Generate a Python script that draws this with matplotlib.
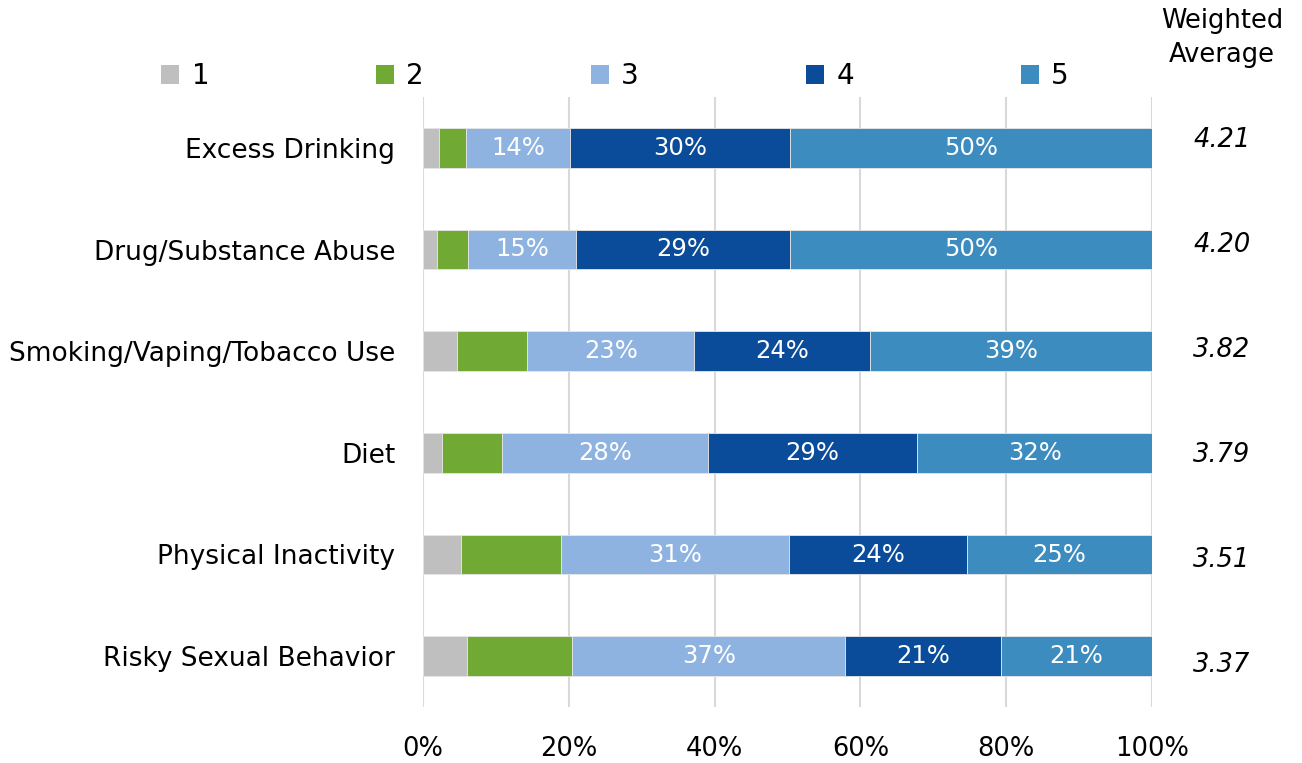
import matplotlib
matplotlib.use("Agg")
import matplotlib.pyplot as plt
from matplotlib.patches import Patch

categories = ["Excess Drinking", "Drug/Substance Abuse", "Smoking/Vaping/Tobacco Use",
              "Diet", "Physical Inactivity", "Risky Sexual Behavior"]
rating_labels = ["1", "2", "3", "4", "5"]
share_1 = [2.2, 1.9, 4.7, 2.6, 5.2, 6.0]
share_2 = [3.7, 4.3, 9.6, 8.2, 13.7, 14.5]
share_3 = [14.3, 14.8, 22.9, 28.3, 31.3, 37.4]
share_4 = [30.2, 29.4, 24.1, 28.7, 24.4, 21.4]
share_5 = [49.7, 49.7, 38.7, 32.2, 25.4, 20.7]
weighted_avg = [4.21, 4.20, 3.82, 3.79, 3.51, 3.37]
x_ticks = [0, 20, 40, 60, 80, 100]

colors = ["#BFBFBF", "#71A935", "#8FB3E0", "#0A4C9A", "#3C8CC0"]
labelled = [False, False, True, True, True]

plt.rcParams["font.family"] = ["DejaVu Sans"]

W, H = 1302, 763
fig = plt.figure(figsize=(W / 100, H / 100), dpi=100)
ax = fig.add_axes([423 / W, 1 - 707 / H, (1152 - 423) / W, 610 / H])

series = [share_1, share_2, share_3, share_4, share_5]
ypos = list(range(len(categories)))
left = [0.0] * len(categories)
for vals, col, lab in zip(series, colors, labelled):
    ax.barh(ypos, vals, left=left, height=0.393, color=col, edgecolor="#E6E6E6",
            linewidth=0.6, zorder=3)
    if lab:
        for y, l, v in zip(ypos, left, vals):
            ax.text(l + v / 2, y, f"{round(v):d}%", ha="center", va="center",
                    color="white", fontsize=17.5, zorder=4)
    left = [a + b for a, b in zip(left, vals)]

ax.set_xlim(0, 100)
ax.set_ylim(len(categories) - 0.5, -0.5)
ax.set_xticks(x_ticks)
ax.set_xticklabels([f"{t}%" for t in x_ticks], fontsize=18.5)
ax.set_yticks(ypos)
ax.set_yticklabels(categories, fontsize=19)
ax.tick_params(axis="both", length=0)
ax.tick_params(axis="x", pad=21)
ax.tick_params(axis="y", pad=20)
ax.grid(axis="x", color="#D9D9D9", linewidth=1.5, zorder=0)
for s in ax.spines.values():
    s.set_visible(False)

# weighted average column, to the right of the plot area
avg_x = (1222 - 423) / (1152 - 423)
row_px = 610 / len(categories)
for i, w in enumerate(weighted_avg):
    ypix = 140 + 105 * i
    yd = (ypix - 97) / row_px - 0.5
    ax.text(avg_x, yd, f"{w:.2f}", transform=ax.get_yaxis_transform(),
            ha="center", va="center", fontsize=18.5, style="italic", clip_on=False)
fig.text(1222 / W, 1 - 38 / H, "Weighted\nAverage", ha="center", va="center",
         fontsize=18.5, linespacing=1.45)

handles = [Patch(facecolor=c, edgecolor="none") for c in colors]
fig.legend(handles, rating_labels, loc="center left",
           bbox_to_anchor=(161 / W, 1 - 76 / H), borderaxespad=0, borderpad=0,
           ncol=5, frameon=False, fontsize=20, handlelength=0.65, handleheight=0.65,
           handletextpad=0.45, columnspacing=6.0)

fig.savefig("out.png", dpi=100, facecolor="white")
